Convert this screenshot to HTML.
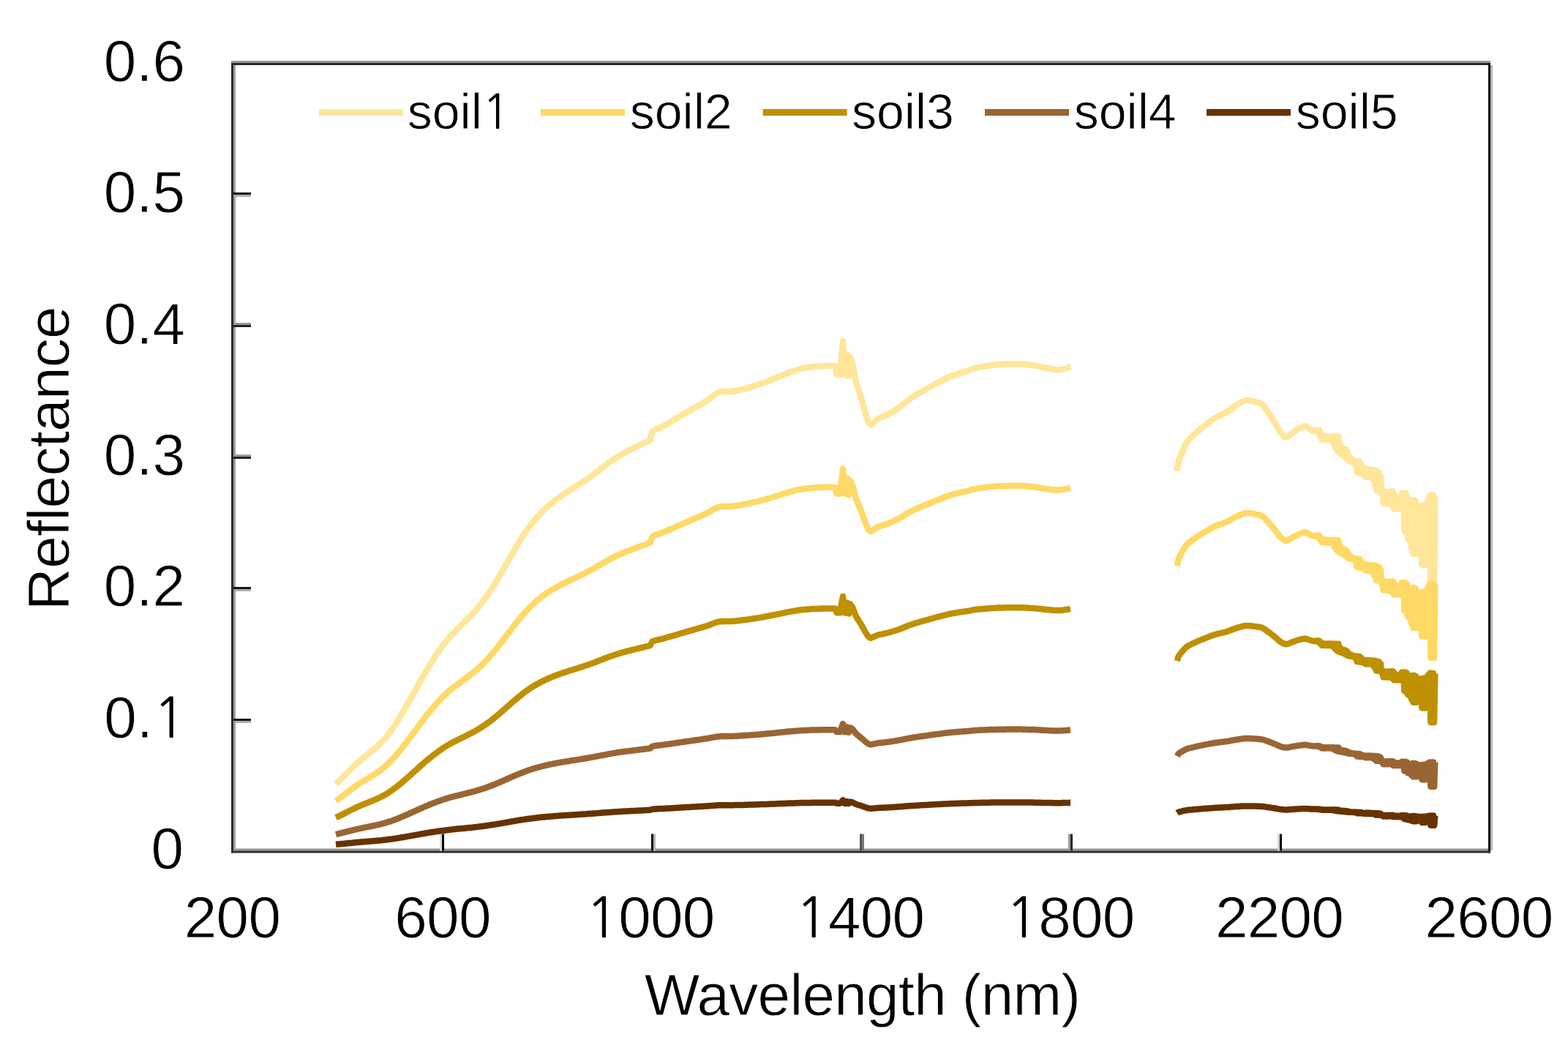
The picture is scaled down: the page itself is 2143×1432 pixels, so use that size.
<!DOCTYPE html>
<html><head><meta charset="utf-8"><title>Reflectance chart</title>
<style>
html,body{margin:0;padding:0;background:#fff;}
body{width:2143px;height:1432px;overflow:hidden;}
svg{display:block;}
text{font-family:"Liberation Sans",Arial,sans-serif;fill:#000;stroke:#fff;stroke-width:0.8px;}
</style></head><body>
<svg width="2143" height="1432" viewBox="0 0 2143 1432">
<rect width="2143" height="1432" fill="#fff"/>
<rect x="316" y="83" width="1721" height="3" fill="#999999"/><rect x="316" y="86" width="1721" height="3" fill="#2b2b2b"/><rect x="316" y="86" width="3" height="1079.5" fill="#2b2b2b"/><rect x="319" y="89" width="3" height="1070.5" fill="#a0a0a0"/><rect x="2034" y="86" width="3" height="1079.5" fill="#0a0a0a"/><rect x="2037" y="89" width="3" height="1073" fill="#b5b5b5"/><rect x="319" y="1159.5" width="1715" height="3" fill="#939393"/><rect x="316" y="1162.5" width="1721" height="3" fill="#2b2b2b"/><rect x="319" y="263" width="24" height="3" fill="#151515"/><rect x="322" y="266" width="21" height="3" fill="#b0b0b0"/><rect x="322" y="441" width="21" height="3" fill="#9a9a9a"/><rect x="319" y="444" width="24" height="3" fill="#222"/><rect x="322" y="621" width="21" height="3" fill="#9a9a9a"/><rect x="319" y="624" width="24" height="3" fill="#222"/><rect x="319" y="802" width="24" height="3" fill="#151515"/><rect x="322" y="805" width="21" height="3" fill="#b0b0b0"/><rect x="319" y="982" width="24" height="3" fill="#151515"/><rect x="322" y="985" width="21" height="3" fill="#b0b0b0"/><rect x="601" y="1139.5" width="3" height="23" fill="#dcdcdc"/><rect x="604" y="1139.5" width="3" height="23" fill="#080808"/><rect x="890" y="1139.5" width="3" height="23" fill="#080808"/><rect x="893" y="1139.5" width="3" height="23" fill="#b8b8b8"/><rect x="1175" y="1139.5" width="3" height="23" fill="#555"/><rect x="1178" y="1139.5" width="3" height="23" fill="#777"/><rect x="1460" y="1139.5" width="3" height="23" fill="#999"/><rect x="1463" y="1139.5" width="3" height="23" fill="#2a2a2a"/><rect x="1746" y="1139.5" width="3" height="23" fill="#d0d0d0"/><rect x="1749" y="1139.5" width="3" height="23" fill="#080808"/>
<g fill="none" stroke-width="8.5" stroke-linejoin="round" stroke-linecap="butt"><path d="M459.0 1071.3L461.0 1069.5L463.0 1067.6L465.0 1065.7L467.0 1063.8L469.0 1061.8L471.0 1059.8L473.0 1057.7L475.0 1055.7L477.0 1053.6L479.0 1051.6L481.0 1049.6L483.0 1047.6L485.0 1045.6L487.0 1043.7L489.0 1041.9L491.0 1040.1L493.0 1038.3L495.0 1036.6L497.0 1035.0L499.0 1033.4L501.0 1031.8L503.0 1030.2L505.0 1028.6L507.0 1027.0L509.0 1025.3L511.0 1023.7L513.0 1022.0L515.0 1020.2L517.0 1018.4L519.0 1016.5L521.0 1014.5L523.0 1012.5L525.0 1010.3L527.0 1008.0L529.0 1005.6L531.0 1003.1L533.0 1000.4L535.0 997.7L537.0 994.8L539.0 991.9L541.0 988.8L543.0 985.7L545.0 982.5L547.0 979.3L549.0 975.9L551.0 972.5L553.0 969.1L555.0 965.6L557.0 962.1L559.0 958.6L561.0 955.0L563.0 951.4L565.0 947.8L567.0 944.2L569.0 940.6L571.0 937.0L573.0 933.4L575.0 929.8L577.0 926.3L579.0 922.8L581.0 919.3L583.0 915.9L585.0 912.5L587.0 909.2L589.0 905.9L591.0 902.7L593.0 899.6L595.0 896.5L597.0 893.5L599.0 890.6L601.0 887.8L603.0 885.0L605.0 882.3L607.0 879.6L609.0 877.1L611.0 874.6L613.0 872.2L615.0 869.9L617.0 867.7L619.0 865.5L621.0 863.4L623.0 861.3L625.0 859.3L627.0 857.3L629.0 855.4L631.0 853.4L633.0 851.5L635.0 849.6L637.0 847.6L639.0 845.7L641.0 843.7L643.0 841.6L645.0 839.5L647.0 837.4L649.0 835.2L651.0 832.9L653.0 830.6L655.0 828.2L657.0 825.7L659.0 823.1L661.0 820.5L663.0 817.8L665.0 815.0L667.0 812.1L669.0 809.2L671.0 806.2L673.0 803.1L675.0 799.9L677.0 796.7L679.0 793.3L681.0 790.0L683.0 786.5L685.0 783.1L687.0 779.6L689.0 776.1L691.0 772.5L693.0 769.0L695.0 765.5L697.0 762.0L699.0 758.5L701.0 755.0L703.0 751.6L705.0 748.1L707.0 744.8L709.0 741.5L711.0 738.2L713.0 735.0L715.0 731.9L717.0 728.8L719.0 725.8L721.0 722.9L723.0 720.2L725.0 717.5L727.0 714.9L729.0 712.4L731.0 709.9L733.0 707.6L735.0 705.4L737.0 703.2L739.0 701.1L741.0 699.1L743.0 697.1L745.0 695.2L747.0 693.4L749.0 691.6L751.0 689.9L753.0 688.2L755.0 686.5L757.0 684.9L759.0 683.4L761.0 681.9L763.0 680.4L765.0 679.0L767.0 677.5L769.0 676.2L771.0 674.8L773.0 673.5L775.0 672.2L777.0 670.9L779.0 669.6L781.0 668.3L783.0 667.1L785.0 665.8L787.0 664.6L789.0 663.3L791.0 662.0L793.0 660.8L795.0 659.5L797.0 658.2L799.0 656.9L801.0 655.5L803.0 654.2L805.0 652.8L807.0 651.4L809.0 649.9L811.0 648.4L813.0 646.9L815.0 645.4L817.0 643.8L819.0 642.3L821.0 640.7L823.0 639.2L825.0 637.6L827.0 636.1L829.0 634.6L831.0 633.1L833.0 631.6L835.0 630.2L837.0 628.8L839.0 627.4L841.0 626.1L843.0 624.8L845.0 623.5L847.0 622.3L849.0 621.2L851.0 620.0L853.0 618.9L855.0 617.8L857.0 616.7L859.0 615.7L861.0 614.6L863.0 613.6L865.0 612.6L867.0 611.7L869.0 610.7L871.0 609.7L873.0 608.7L875.0 607.8L877.0 606.8L879.0 605.9L881.0 604.9L883.0 603.9L885.0 603.0L887.0 602.0L888.5 601.3L891.5 590.0L893.5 588.6L895.0 587.6L895.5 587.3L897.5 586.3L899.5 585.4L901.5 584.5L903.5 583.6L905.5 582.6L907.5 581.5L909.5 580.4L911.5 579.2L913.5 578.1L915.5 576.9L916.0 576.6L917.5 575.7L919.5 574.6L921.5 573.4L923.5 572.3L925.5 571.1L926.4 570.6L927.5 569.9L929.5 568.7L931.5 567.5L933.5 566.3L935.5 565.1L936.9 564.3L937.5 563.9L939.5 562.8L941.5 561.7L943.5 560.5L945.5 559.4L947.4 558.3L947.5 558.2L949.5 557.1L951.5 555.9L953.5 554.8L955.5 553.6L957.5 552.4L957.9 552.2L959.5 551.3L961.5 550.1L963.5 549.0L965.5 547.8L967.5 546.5L968.3 546.0L969.5 545.1L971.5 543.3L973.5 541.6L975.0 540.5L975.5 540.2L977.5 538.8L979.5 537.5L981.5 536.4L983.5 535.7L984.6 535.5L985.5 535.4L987.5 535.3L989.5 535.2L991.5 535.1L993.5 535.1L995.5 535.0L997.5 534.9L999.5 534.8L1000.0 534.8L1001.5 534.7L1003.5 534.4L1005.5 534.0L1007.5 533.6L1009.5 533.2L1011.5 532.7L1013.5 532.1L1015.5 531.6L1017.5 531.0L1019.5 530.5L1019.9 530.4L1021.5 530.0L1023.5 529.4L1025.5 528.9L1027.5 528.3L1029.5 527.7L1031.5 527.1L1033.5 526.4L1034.8 526.0L1035.5 525.8L1037.5 525.1L1039.5 524.4L1041.5 523.7L1043.5 523.0L1045.5 522.3L1047.5 521.5L1049.5 520.8L1049.7 520.7L1051.5 520.0L1053.5 519.2L1055.5 518.4L1057.5 517.6L1059.5 516.8L1061.5 516.0L1063.5 515.2L1064.7 514.7L1065.5 514.4L1067.5 513.5L1069.5 512.7L1071.5 511.9L1073.5 511.0L1075.5 510.2L1077.5 509.4L1079.5 508.6L1079.6 508.6L1081.5 507.9L1083.5 507.2L1085.5 506.5L1087.5 505.9L1088.0 505.7L1089.5 505.2L1091.5 504.6L1093.5 504.1L1094.6 503.8L1095.5 503.6L1097.5 503.2L1099.5 502.8L1101.5 502.4L1103.5 502.1L1105.5 501.8L1107.5 501.5L1109.5 501.3L1111.5 501.1L1113.5 500.9L1115.5 500.7L1117.5 500.6L1119.5 500.5L1121.5 500.3L1123.5 500.2L1124.4 500.2L1125.5 500.2L1127.5 500.1L1129.5 500.0L1131.5 499.9L1133.5 499.9L1135.5 499.8L1137.5 499.8L1139.4 499.8L1142.0 500.5L1143.5 511.5L1148.0 511.5L1152.0 466.5L1154.0 511.5L1156.5 512.0L1157.5 484.0L1160.0 514.0L1162.0 488.0L1165.0 496.0L1169.6 520.0L1172.6 530.0L1177.7 546.0L1181.7 561.0L1186.8 577.0L1190.0 580.5L1194.0 577.5L1200.0 572.2L1202.0 571.4L1204.0 570.6L1206.0 569.7L1208.0 568.8L1210.0 567.9L1212.0 566.9L1214.0 565.9L1216.0 564.8L1218.0 563.7L1220.0 562.6L1222.0 561.4L1224.0 560.1L1226.0 558.8L1227.9 557.5L1228.0 557.4L1230.0 556.0L1232.0 554.4L1234.0 552.7L1236.0 551.0L1238.0 549.3L1240.0 547.7L1241.9 546.3L1242.0 546.2L1244.0 544.8L1246.0 543.5L1248.0 542.2L1250.0 540.9L1252.0 539.7L1254.0 538.4L1255.9 537.3L1256.0 537.2L1258.0 536.1L1260.0 534.9L1262.0 533.8L1264.0 532.8L1266.0 531.7L1268.0 530.6L1269.8 529.6L1270.0 529.5L1272.0 528.4L1274.0 527.3L1276.0 526.1L1278.0 525.0L1280.0 523.9L1282.0 522.9L1283.8 521.9L1284.0 521.8L1286.0 520.7L1288.0 519.7L1290.0 518.6L1292.0 517.6L1294.0 516.6L1296.0 515.7L1297.8 514.9L1298.0 514.8L1300.0 514.0L1302.0 513.3L1304.0 512.6L1306.0 511.9L1308.0 511.2L1310.0 510.6L1311.7 510.0L1312.0 509.9L1314.0 509.3L1316.0 508.7L1318.0 508.2L1320.0 507.6L1322.0 507.1L1324.0 506.4L1325.7 505.8L1326.0 505.7L1328.0 504.7L1330.0 503.8L1332.0 503.2L1334.0 502.7L1336.0 502.2L1338.0 501.8L1340.0 501.4L1342.0 501.0L1344.0 500.7L1346.0 500.4L1348.0 500.1L1350.0 499.8L1350.3 499.8L1352.0 499.6L1354.0 499.3L1356.0 499.0L1358.0 498.8L1360.0 498.5L1362.0 498.3L1364.0 498.1L1366.0 497.9L1368.0 497.8L1370.0 497.7L1370.6 497.7L1372.0 497.7L1374.0 497.6L1376.0 497.6L1378.0 497.5L1380.0 497.5L1382.0 497.5L1384.0 497.4L1386.0 497.4L1388.0 497.4L1390.0 497.4L1390.9 497.4L1392.0 497.4L1394.0 497.5L1396.0 497.6L1398.0 497.7L1400.0 497.9L1402.0 498.0L1404.0 498.3L1406.0 498.5L1408.0 498.7L1410.0 499.0L1411.2 499.1L1412.0 499.2L1414.0 499.5L1416.0 499.9L1418.0 500.3L1420.0 500.7L1422.0 501.2L1424.0 501.6L1426.0 502.1L1428.0 502.5L1430.0 502.9L1431.5 503.2L1432.0 503.3L1434.0 503.7L1436.0 504.1L1438.0 504.4L1440.0 504.8L1442.0 505.0L1444.0 505.2L1445.0 505.2L1446.0 505.2L1448.0 505.0L1450.0 504.7L1452.0 504.3L1454.0 503.8L1456.0 503.3L1458.0 502.7L1458.6 502.5L1460.0 502.0L1462.0 501.0L1463.0 500.5M1608.8 643.5L1610.4 632.2L1610.8 630.6L1612.8 624.3L1614.8 619.7L1616.1 616.8L1616.8 615.1L1618.8 610.4L1620.8 606.4L1621.5 605.3L1622.8 603.5L1624.8 601.1L1626.8 599.0L1628.8 597.0L1630.8 595.2L1632.3 593.8L1632.8 593.3L1634.8 591.5L1636.8 589.6L1638.8 587.9L1640.8 586.2L1642.8 584.5L1644.8 582.9L1645.7 582.2L1646.8 581.3L1648.8 579.7L1650.8 578.2L1652.8 576.6L1654.8 575.1L1656.8 573.7L1658.8 572.3L1660.8 571.1L1661.4 570.7L1662.8 569.9L1664.8 568.9L1666.8 567.9L1668.8 567.0L1670.8 566.1L1672.8 565.1L1674.8 564.1L1676.8 563.0L1678.8 561.7L1680.8 560.2L1682.8 558.6L1684.8 557.1L1686.8 555.5L1688.8 554.1L1690.0 553.4L1690.8 552.9L1692.8 551.7L1694.8 550.4L1696.8 549.2L1698.8 548.2L1700.8 547.4L1702.8 546.9L1704.0 546.8L1704.8 546.8L1706.8 547.0L1708.8 547.3L1710.8 547.8L1712.8 548.3L1714.8 548.8L1716.5 549.3L1716.8 549.4L1718.8 549.9L1720.8 550.6L1722.8 551.4L1724.1 552.0L1724.8 552.5L1726.8 554.4L1728.8 557.0L1730.8 560.0L1732.8 562.9L1733.2 563.5L1734.8 565.8L1736.8 568.8L1738.8 571.9L1740.8 575.1L1742.3 577.5L1742.8 578.3L1744.8 581.9L1746.8 585.6L1748.8 589.0L1750.8 591.9L1751.4 592.6L1752.8 594.1L1754.8 596.2L1756.8 597.4L1757.5 597.5L1758.8 597.3L1760.8 596.2L1762.8 594.6L1764.8 592.8L1766.6 591.4L1766.8 591.3L1768.8 589.9L1770.8 588.4L1772.8 587.1L1774.8 585.9L1775.7 585.4L1776.8 584.8L1778.8 583.8L1780.8 582.9L1782.8 582.4L1783.6 582.3L1784.8 582.5L1786.8 583.6L1788.8 585.2L1790.8 586.8L1792.8 588.1L1793.9 588.4L1794.8 588.5L1796.8 588.8L1798.8 589.0L1800.0 589.0L1800.5 587.6L1801.7 591.5L1802.9 587.7L1804.1 595.6L1805.3 591.5L1806.5 600.5L1807.7 595.6L1808.9 600.7L1810.1 595.7L1811.3 600.9L1812.5 595.8L1813.7 601.0L1814.9 595.9L1816.1 601.2L1817.3 596.1L1818.5 601.4L1819.7 596.2L1820.9 602.7L1822.1 596.3L1823.3 608.1L1824.5 596.4L1825.7 612.8L1826.9 596.5L1828.1 616.4L1829.3 596.6L1830.5 619.0L1831.7 606.8L1832.9 620.4L1834.1 611.8L1835.3 622.0L1836.5 612.8L1837.7 624.4L1838.9 613.8L1840.1 626.8L1841.3 617.0L1842.5 629.2L1843.7 623.3L1844.9 630.3L1846.1 625.7L1847.3 631.2L1848.5 628.1L1849.7 632.1L1850.9 629.4L1852.1 635.0L1853.3 629.9L1854.5 645.3L1855.7 630.4L1856.9 645.9L1858.1 630.9L1859.3 646.5L1860.5 634.9L1861.7 647.1L1862.9 640.4L1864.1 648.9L1865.3 640.7L1866.5 651.9L1867.7 641.0L1868.9 651.9L1870.1 641.3L1871.3 651.9L1872.5 641.6L1873.7 651.9L1874.9 641.9L1876.1 655.2L1877.3 642.2L1878.5 661.4L1879.7 642.5L1880.9 669.8L1882.1 644.1L1883.3 670.2L1884.5 645.7L1885.7 670.6L1886.9 650.7L1888.1 675.4L1889.3 668.6L1890.5 687.6L1891.7 672.1L1892.9 687.8L1894.1 672.4L1895.3 688.0L1896.5 672.2L1897.7 688.2L1898.9 671.9L1900.1 679.5L1901.3 671.6L1902.5 690.8L1903.7 671.4L1904.9 695.4L1906.1 677.0L1907.3 695.4L1908.5 681.2L1909.7 695.4L1910.9 681.2L1912.1 695.4L1913.3 680.7L1914.5 695.4L1915.7 674.0L1916.9 695.4L1918.1 674.0L1919.3 725.0L1920.5 674.0L1921.7 728.3L1922.9 676.8L1924.1 735.7L1925.3 690.3L1926.5 738.9L1927.7 689.3L1928.9 747.8L1930.1 683.2L1931.3 756.4L1932.5 683.2L1933.7 756.4L1934.9 684.8L1936.1 756.4L1937.3 690.8L1938.5 746.4L1939.7 692.7L1940.9 746.4L1942.1 691.7L1943.3 771.8L1944.5 690.8L1945.7 771.8L1946.9 689.9L1948.1 771.8L1949.3 688.9L1950.5 747.1L1951.7 681.9L1952.9 747.2L1954.1 676.6L1955.3 810.8L1956.5 676.6L1957.7 810.8L1958.9 676.9L1960.1 810.8L1961.3 678.0" stroke="#FFE699"/><path d="M459.0 1094.2L461.0 1092.9L463.0 1091.5L465.0 1090.0L467.0 1088.6L469.0 1087.1L471.0 1085.6L473.0 1084.0L475.0 1082.5L477.0 1081.0L479.0 1079.5L481.0 1077.9L483.0 1076.4L485.0 1075.0L487.0 1073.5L489.0 1072.1L491.0 1070.8L493.0 1069.5L495.0 1068.2L497.0 1067.0L499.0 1065.8L501.0 1064.6L503.0 1063.4L505.0 1062.2L507.0 1061.0L509.0 1059.8L511.0 1058.5L513.0 1057.2L515.0 1055.9L517.0 1054.5L519.0 1053.1L521.0 1051.6L523.0 1050.1L525.0 1048.5L527.0 1046.8L529.0 1044.9L531.0 1043.0L533.0 1041.1L535.0 1039.0L537.0 1036.9L539.0 1034.7L541.0 1032.4L543.0 1030.0L545.0 1027.6L547.0 1025.2L549.0 1022.7L551.0 1020.2L553.0 1017.6L555.0 1015.0L557.0 1012.3L559.0 1009.7L561.0 1007.0L563.0 1004.3L565.0 1001.6L567.0 998.9L569.0 996.2L571.0 993.5L573.0 990.8L575.0 988.1L577.0 985.5L579.0 982.8L581.0 980.2L583.0 977.6L585.0 975.1L587.0 972.6L589.0 970.2L591.0 967.8L593.0 965.4L595.0 963.1L597.0 960.9L599.0 958.7L601.0 956.6L603.0 954.5L605.0 952.4L607.0 950.5L609.0 948.6L611.0 946.7L613.0 944.9L615.0 943.2L617.0 941.5L619.0 939.9L621.0 938.3L623.0 936.8L625.0 935.2L627.0 933.8L629.0 932.3L631.0 930.8L633.0 929.4L635.0 927.9L637.0 926.5L639.0 925.0L641.0 923.5L643.0 922.0L645.0 920.4L647.0 918.8L649.0 917.2L651.0 915.4L653.0 913.7L655.0 911.9L657.0 910.0L659.0 908.1L661.0 906.1L663.0 904.1L665.0 902.0L667.0 899.9L669.0 897.6L671.0 895.4L673.0 893.1L675.0 890.7L677.0 888.2L679.0 885.8L681.0 883.2L683.0 880.7L685.0 878.1L687.0 875.4L689.0 872.8L691.0 870.1L693.0 867.5L695.0 864.9L697.0 862.2L699.0 859.6L701.0 857.0L703.0 854.4L705.0 851.9L707.0 849.3L709.0 846.8L711.0 844.4L713.0 842.0L715.0 839.7L717.0 837.4L719.0 835.1L721.0 833.0L723.0 830.9L725.0 828.8L727.0 826.9L729.0 825.0L731.0 823.2L733.0 821.5L735.0 819.8L737.0 818.2L739.0 816.6L741.0 815.1L743.0 813.6L745.0 812.2L747.0 810.8L749.0 809.4L751.0 808.1L753.0 806.9L755.0 805.6L757.0 804.5L759.0 803.3L761.0 802.2L763.0 801.0L765.0 800.0L767.0 798.9L769.0 797.9L771.0 796.9L773.0 795.9L775.0 794.9L777.0 793.9L779.0 792.9L781.0 792.0L783.0 791.1L785.0 790.1L787.0 789.2L789.0 788.2L791.0 787.3L793.0 786.3L795.0 785.4L797.0 784.4L799.0 783.4L801.0 782.4L803.0 781.4L805.0 780.3L807.0 779.3L809.0 778.2L811.0 777.1L813.0 775.9L815.0 774.8L817.0 773.6L819.0 772.5L821.0 771.3L823.0 770.1L825.0 769.0L827.0 767.8L829.0 766.7L831.0 765.5L833.0 764.4L835.0 763.4L837.0 762.3L839.0 761.3L841.0 760.3L843.0 759.3L845.0 758.4L847.0 757.5L849.0 756.6L851.0 755.8L853.0 754.9L855.0 754.1L857.0 753.3L859.0 752.5L861.0 751.7L863.0 751.0L865.0 750.2L867.0 749.5L869.0 748.8L871.0 748.0L873.0 747.3L875.0 746.6L877.0 745.9L879.0 745.2L881.0 744.4L883.0 743.7L885.0 743.0L887.0 742.2L888.5 741.7L891.5 733.2L893.5 732.2L895.0 731.5L895.5 731.2L897.5 730.5L899.5 729.8L901.5 729.1L903.5 728.4L905.5 727.7L907.5 726.9L909.5 726.0L911.5 725.2L913.5 724.3L915.5 723.4L916.0 723.2L917.5 722.6L919.5 721.7L921.5 720.8L923.5 720.0L925.5 719.1L926.4 718.7L927.5 718.2L929.5 717.3L931.5 716.4L933.5 715.5L935.5 714.6L936.9 714.0L937.5 713.7L939.5 712.8L941.5 712.0L943.5 711.1L945.5 710.3L947.4 709.5L947.5 709.4L949.5 708.6L951.5 707.7L953.5 706.8L955.5 706.0L957.5 705.1L957.9 704.9L959.5 704.2L961.5 703.4L963.5 702.5L965.5 701.6L967.5 700.7L968.3 700.2L969.5 699.6L971.5 698.3L973.5 697.0L975.0 696.1L975.5 695.9L977.5 694.9L979.5 693.9L981.5 693.1L983.5 692.5L984.6 692.4L985.5 692.3L987.5 692.2L989.5 692.2L991.5 692.1L993.5 692.1L995.5 692.0L997.5 692.0L999.5 691.9L1000.0 691.8L1001.5 691.7L1003.5 691.5L1005.5 691.3L1007.5 691.0L1009.5 690.6L1011.5 690.2L1013.5 689.8L1015.5 689.4L1017.5 689.0L1019.5 688.6L1019.9 688.5L1021.5 688.2L1023.5 687.8L1025.5 687.4L1027.5 687.0L1029.5 686.5L1031.5 686.0L1033.5 685.6L1034.8 685.2L1035.5 685.1L1037.5 684.6L1039.5 684.1L1041.5 683.5L1043.5 683.0L1045.5 682.5L1047.5 681.9L1049.5 681.3L1049.7 681.3L1051.5 680.8L1053.5 680.2L1055.5 679.6L1057.5 679.0L1059.5 678.4L1061.5 677.8L1063.5 677.1L1064.7 676.8L1065.5 676.5L1067.5 675.9L1069.5 675.3L1071.5 674.6L1073.5 674.0L1075.5 673.4L1077.5 672.8L1079.5 672.2L1079.6 672.2L1081.5 671.7L1083.5 671.1L1085.5 670.6L1087.5 670.1L1088.0 670.0L1089.5 669.7L1091.5 669.2L1093.5 668.8L1094.6 668.6L1095.5 668.5L1097.5 668.1L1099.5 667.8L1101.5 667.6L1103.5 667.3L1105.5 667.1L1107.5 666.9L1109.5 666.7L1111.5 666.6L1113.5 666.4L1115.5 666.3L1117.5 666.2L1119.5 666.1L1121.5 666.0L1123.5 665.9L1124.4 665.9L1125.5 665.9L1127.5 665.8L1129.5 665.8L1131.5 665.7L1133.5 665.7L1135.5 665.6L1137.5 665.6L1139.4 665.6L1142.0 666.1L1143.5 674.4L1148.0 674.4L1152.0 640.6L1154.0 674.4L1156.5 674.8L1157.5 653.8L1160.0 676.2L1162.0 656.8L1165.0 662.8L1169.6 680.8L1172.6 688.2L1177.7 700.2L1181.7 711.5L1186.8 723.5L1190.0 726.1L1194.0 723.9L1200.0 719.9L1202.0 719.3L1204.0 718.7L1206.0 718.1L1208.0 717.4L1210.0 716.7L1212.0 715.9L1214.0 715.2L1216.0 714.4L1218.0 713.5L1220.0 712.7L1222.0 711.8L1224.0 710.8L1226.0 709.8L1227.9 708.9L1228.0 708.8L1230.0 707.7L1232.0 706.5L1234.0 705.3L1236.0 704.0L1238.0 702.7L1240.0 701.5L1241.9 700.5L1242.0 700.4L1244.0 699.4L1246.0 698.4L1248.0 697.4L1250.0 696.4L1252.0 695.5L1254.0 694.6L1255.9 693.7L1256.0 693.7L1258.0 692.8L1260.0 692.0L1262.0 691.1L1264.0 690.3L1266.0 689.5L1268.0 688.7L1269.8 688.0L1270.0 687.9L1272.0 687.0L1274.0 686.2L1276.0 685.4L1278.0 684.5L1280.0 683.7L1282.0 682.9L1283.8 682.2L1284.0 682.1L1286.0 681.3L1288.0 680.5L1290.0 679.7L1292.0 678.9L1294.0 678.2L1296.0 677.5L1297.8 676.9L1298.0 676.9L1300.0 676.3L1302.0 675.7L1304.0 675.2L1306.0 674.7L1308.0 674.2L1310.0 673.7L1311.7 673.2L1312.0 673.2L1314.0 672.7L1316.0 672.3L1318.0 671.9L1320.0 671.5L1322.0 671.0L1324.0 670.6L1325.7 670.1L1326.0 670.0L1328.0 669.3L1330.0 668.6L1332.0 668.2L1334.0 667.8L1336.0 667.4L1338.0 667.1L1340.0 666.8L1342.0 666.5L1344.0 666.3L1346.0 666.1L1348.0 665.8L1350.0 665.6L1350.3 665.6L1352.0 665.4L1354.0 665.2L1356.0 665.0L1358.0 664.8L1360.0 664.6L1362.0 664.5L1364.0 664.3L1366.0 664.2L1368.0 664.1L1370.0 664.0L1370.6 664.0L1372.0 664.0L1374.0 664.0L1376.0 663.9L1378.0 663.9L1380.0 663.9L1382.0 663.8L1384.0 663.8L1386.0 663.8L1388.0 663.8L1390.0 663.8L1390.9 663.8L1392.0 663.8L1394.0 663.8L1396.0 663.9L1398.0 664.0L1400.0 664.1L1402.0 664.3L1404.0 664.4L1406.0 664.6L1408.0 664.8L1410.0 665.0L1411.2 665.1L1412.0 665.2L1414.0 665.4L1416.0 665.6L1418.0 666.0L1420.0 666.3L1422.0 666.6L1424.0 667.0L1426.0 667.3L1428.0 667.6L1430.0 667.9L1431.5 668.2L1432.0 668.2L1434.0 668.5L1436.0 668.8L1438.0 669.1L1440.0 669.3L1442.0 669.5L1444.0 669.6L1445.0 669.7L1446.0 669.6L1448.0 669.5L1450.0 669.3L1452.0 669.0L1454.0 668.6L1456.0 668.2L1458.0 667.8L1458.6 667.6L1460.0 667.2L1462.0 666.5L1463.0 666.1M1608.8 773.4L1610.4 764.9L1610.8 763.7L1612.8 759.0L1614.8 755.5L1616.1 753.3L1616.8 752.1L1618.8 748.6L1620.8 745.6L1621.5 744.7L1622.8 743.4L1624.8 741.5L1626.8 740.0L1628.8 738.5L1630.8 737.2L1632.3 736.1L1632.8 735.7L1634.8 734.3L1636.8 733.0L1638.8 731.7L1640.8 730.4L1642.8 729.2L1644.8 727.9L1645.7 727.4L1646.8 726.7L1648.8 725.6L1650.8 724.4L1652.8 723.2L1654.8 722.1L1656.8 721.0L1658.8 720.0L1660.8 719.0L1661.4 718.8L1662.8 718.2L1664.8 717.4L1666.8 716.7L1668.8 716.0L1670.8 715.3L1672.8 714.6L1674.8 713.8L1676.8 713.0L1678.8 712.0L1680.8 710.9L1682.8 709.7L1684.8 708.5L1686.8 707.4L1688.8 706.3L1690.0 705.8L1690.8 705.4L1692.8 704.5L1694.8 703.6L1696.8 702.7L1698.8 701.9L1700.8 701.3L1702.8 700.9L1704.0 700.8L1704.8 700.9L1706.8 701.0L1708.8 701.2L1710.8 701.6L1712.8 702.0L1714.8 702.4L1716.5 702.7L1716.8 702.8L1718.8 703.2L1720.8 703.7L1722.8 704.3L1724.1 704.8L1724.8 705.1L1726.8 706.5L1728.8 708.5L1730.8 710.7L1732.8 713.0L1733.2 713.4L1734.8 715.1L1736.8 717.3L1738.8 719.7L1740.8 722.1L1742.3 723.9L1742.8 724.5L1744.8 727.1L1746.8 729.9L1748.8 732.5L1750.8 734.7L1751.4 735.2L1752.8 736.4L1754.8 737.9L1756.8 738.8L1757.5 738.9L1758.8 738.7L1760.8 737.9L1762.8 736.7L1764.8 735.3L1766.6 734.3L1766.8 734.2L1768.8 733.2L1770.8 732.1L1772.8 731.1L1774.8 730.2L1775.7 729.8L1776.8 729.4L1778.8 728.6L1780.8 727.9L1782.8 727.5L1783.6 727.5L1784.8 727.6L1786.8 728.4L1788.8 729.6L1790.8 730.9L1792.8 731.8L1793.9 732.0L1794.8 732.2L1796.8 732.4L1798.8 732.5L1800.0 732.5L1800.5 731.4L1801.7 734.4L1802.9 731.5L1804.1 737.4L1805.3 734.4L1806.5 741.1L1807.7 737.4L1808.9 741.3L1810.1 737.5L1811.3 741.4L1812.5 737.6L1813.7 741.5L1814.9 737.7L1816.1 741.7L1817.3 737.8L1818.5 741.8L1819.7 737.9L1820.9 742.8L1822.1 738.0L1823.3 746.8L1824.5 738.1L1825.7 750.4L1826.9 738.1L1828.1 753.1L1829.3 738.2L1830.5 755.0L1831.7 745.8L1832.9 756.1L1834.1 749.6L1835.3 757.2L1836.5 750.3L1837.7 759.0L1838.9 751.1L1840.1 760.8L1841.3 753.5L1842.5 762.6L1843.7 758.2L1844.9 763.4L1846.1 760.0L1847.3 764.1L1848.5 761.8L1849.7 764.8L1850.9 762.8L1852.1 767.0L1853.3 763.2L1854.5 774.7L1855.7 763.6L1856.9 775.2L1858.1 763.9L1859.3 775.6L1860.5 766.9L1861.7 776.0L1862.9 771.0L1864.1 777.5L1865.3 771.3L1866.5 779.6L1867.7 771.5L1868.9 779.6L1870.1 771.7L1871.3 779.6L1872.5 771.9L1873.7 779.6L1874.9 772.1L1876.1 782.2L1877.3 772.4L1878.5 786.8L1879.7 772.6L1880.9 793.1L1882.1 773.8L1883.3 793.4L1884.5 775.0L1885.7 793.7L1886.9 778.8L1888.1 797.3L1889.3 792.2L1890.5 806.5L1891.7 794.8L1892.9 806.6L1894.1 795.1L1895.3 806.7L1896.5 794.9L1897.7 806.9L1898.9 794.7L1900.1 800.3L1901.3 794.5L1902.5 808.9L1903.7 794.3L1904.9 812.3L1906.1 798.5L1907.3 812.3L1908.5 801.7L1909.7 812.3L1910.9 801.7L1912.1 812.3L1913.3 801.3L1914.5 812.3L1915.7 796.3L1916.9 812.3L1918.1 796.3L1919.3 834.5L1920.5 796.3L1921.7 836.9L1922.9 798.4L1924.1 842.5L1925.3 808.4L1926.5 844.9L1927.7 807.7L1928.9 851.6L1930.1 803.2L1931.3 858.0L1932.5 803.2L1933.7 858.0L1934.9 804.3L1936.1 858.0L1937.3 808.8L1938.5 850.5L1939.7 810.3L1940.9 850.5L1942.1 809.6L1943.3 869.6L1944.5 808.9L1945.7 869.6L1946.9 808.1L1948.1 869.6L1949.3 807.4L1950.5 851.1L1951.7 802.2L1952.9 851.1L1954.1 798.2L1955.3 898.8L1956.5 798.2L1957.7 898.8L1958.9 798.5L1960.1 898.8L1961.3 799.2" stroke="#FFD966"/><path d="M459.0 1117.1L461.0 1116.2L463.0 1115.3L465.0 1114.4L467.0 1113.4L469.0 1112.4L471.0 1111.4L473.0 1110.4L475.0 1109.3L477.0 1108.3L479.0 1107.3L481.0 1106.3L483.0 1105.3L485.0 1104.3L487.0 1103.4L489.0 1102.4L491.0 1101.5L493.0 1100.7L495.0 1099.8L497.0 1099.0L499.0 1098.2L501.0 1097.4L503.0 1096.6L505.0 1095.8L507.0 1095.0L509.0 1094.2L511.0 1093.3L513.0 1092.5L515.0 1091.6L517.0 1090.7L519.0 1089.8L521.0 1088.8L523.0 1087.7L525.0 1086.6L527.0 1085.5L529.0 1084.3L531.0 1083.0L533.0 1081.7L535.0 1080.3L537.0 1078.9L539.0 1077.4L541.0 1075.9L543.0 1074.4L545.0 1072.8L547.0 1071.1L549.0 1069.5L551.0 1067.8L553.0 1066.1L555.0 1064.3L557.0 1062.6L559.0 1060.8L561.0 1059.0L563.0 1057.2L565.0 1055.4L567.0 1053.6L569.0 1051.8L571.0 1050.0L573.0 1048.2L575.0 1046.4L577.0 1044.6L579.0 1042.9L581.0 1041.1L583.0 1039.4L585.0 1037.7L587.0 1036.1L589.0 1034.5L591.0 1032.9L593.0 1031.3L595.0 1029.8L597.0 1028.3L599.0 1026.8L601.0 1025.4L603.0 1024.0L605.0 1022.6L607.0 1021.3L609.0 1020.0L611.0 1018.8L613.0 1017.6L615.0 1016.5L617.0 1015.3L619.0 1014.3L621.0 1013.2L623.0 1012.2L625.0 1011.2L627.0 1010.2L629.0 1009.2L631.0 1008.2L633.0 1007.3L635.0 1006.3L637.0 1005.3L639.0 1004.3L641.0 1003.3L643.0 1002.3L645.0 1001.3L647.0 1000.2L649.0 999.1L651.0 998.0L653.0 996.8L655.0 995.6L657.0 994.3L659.0 993.1L661.0 991.7L663.0 990.4L665.0 989.0L667.0 987.6L669.0 986.1L671.0 984.6L673.0 983.0L675.0 981.5L677.0 979.8L679.0 978.2L681.0 976.5L683.0 974.8L685.0 973.0L687.0 971.3L689.0 969.5L691.0 967.8L693.0 966.0L695.0 964.2L697.0 962.5L699.0 960.7L701.0 959.0L703.0 957.3L705.0 955.6L707.0 953.9L709.0 952.2L711.0 950.6L713.0 949.0L715.0 947.4L717.0 945.9L719.0 944.4L721.0 943.0L723.0 941.6L725.0 940.2L727.0 938.9L729.0 937.7L731.0 936.5L733.0 935.3L735.0 934.2L737.0 933.1L739.0 932.1L741.0 931.0L743.0 930.1L745.0 929.1L747.0 928.2L749.0 927.3L751.0 926.4L753.0 925.6L755.0 924.8L757.0 924.0L759.0 923.2L761.0 922.4L763.0 921.7L765.0 921.0L767.0 920.3L769.0 919.6L771.0 918.9L773.0 918.2L775.0 917.6L777.0 916.9L779.0 916.3L781.0 915.7L783.0 915.0L785.0 914.4L787.0 913.8L789.0 913.2L791.0 912.5L793.0 911.9L795.0 911.2L797.0 910.6L799.0 909.9L801.0 909.3L803.0 908.6L805.0 907.9L807.0 907.2L809.0 906.4L811.0 905.7L813.0 905.0L815.0 904.2L817.0 903.4L819.0 902.6L821.0 901.9L823.0 901.1L825.0 900.3L827.0 899.5L829.0 898.8L831.0 898.0L833.0 897.3L835.0 896.6L837.0 895.9L839.0 895.2L841.0 894.5L843.0 893.9L845.0 893.3L847.0 892.7L849.0 892.1L851.0 891.5L853.0 890.9L855.0 890.4L857.0 889.9L859.0 889.3L861.0 888.8L863.0 888.3L865.0 887.8L867.0 887.3L869.0 886.8L871.0 886.4L873.0 885.9L875.0 885.4L877.0 884.9L879.0 884.4L881.0 884.0L883.0 883.5L885.0 883.0L887.0 882.5L888.5 882.1L891.5 876.5L893.5 875.8L895.0 875.3L895.5 875.2L897.5 874.6L899.5 874.2L901.5 873.7L903.5 873.3L905.5 872.8L907.5 872.3L909.5 871.7L911.5 871.1L913.5 870.5L915.5 869.9L916.0 869.8L917.5 869.4L919.5 868.8L921.5 868.2L923.5 867.6L925.5 867.1L926.4 866.8L927.5 866.5L929.5 865.9L931.5 865.3L933.5 864.7L935.5 864.1L936.9 863.6L937.5 863.5L939.5 862.9L941.5 862.3L943.5 861.8L945.5 861.2L947.4 860.6L947.5 860.6L949.5 860.0L951.5 859.5L953.5 858.9L955.5 858.3L957.5 857.7L957.9 857.6L959.5 857.1L961.5 856.6L963.5 856.0L965.5 855.4L967.5 854.8L968.3 854.5L969.5 854.0L971.5 853.2L973.5 852.3L975.0 851.8L975.5 851.6L977.5 850.9L979.5 850.3L981.5 849.7L983.5 849.3L984.6 849.2L985.5 849.2L987.5 849.1L989.5 849.1L991.5 849.1L993.5 849.0L995.5 849.0L997.5 849.0L999.5 848.9L1000.0 848.9L1001.5 848.8L1003.5 848.7L1005.5 848.5L1007.5 848.3L1009.5 848.1L1011.5 847.8L1013.5 847.6L1015.5 847.3L1017.5 847.0L1019.5 846.8L1019.9 846.7L1021.5 846.5L1023.5 846.2L1025.5 845.9L1027.5 845.6L1029.5 845.3L1031.5 845.0L1033.5 844.7L1034.8 844.5L1035.5 844.4L1037.5 844.1L1039.5 843.7L1041.5 843.4L1043.5 843.0L1045.5 842.6L1047.5 842.3L1049.5 841.9L1049.7 841.9L1051.5 841.5L1053.5 841.1L1055.5 840.7L1057.5 840.3L1059.5 839.9L1061.5 839.5L1063.5 839.1L1064.7 838.9L1065.5 838.7L1067.5 838.3L1069.5 837.9L1071.5 837.4L1073.5 837.0L1075.5 836.6L1077.5 836.2L1079.5 835.8L1079.6 835.8L1081.5 835.5L1083.5 835.1L1085.5 834.8L1087.5 834.4L1088.0 834.4L1089.5 834.1L1091.5 833.8L1093.5 833.5L1094.6 833.4L1095.5 833.3L1097.5 833.1L1099.5 832.9L1101.5 832.7L1103.5 832.5L1105.5 832.4L1107.5 832.3L1109.5 832.1L1111.5 832.1L1113.5 832.0L1115.5 831.9L1117.5 831.8L1119.5 831.7L1121.5 831.7L1123.5 831.6L1124.4 831.6L1125.5 831.6L1127.5 831.5L1129.5 831.5L1131.5 831.5L1133.5 831.4L1135.5 831.4L1137.5 831.4L1139.4 831.4L1142.0 831.8L1143.5 837.2L1148.0 837.2L1152.0 814.8L1154.0 837.2L1156.5 837.5L1157.5 823.5L1160.0 838.5L1162.0 825.5L1165.0 829.5L1169.6 841.5L1172.6 846.5L1177.7 854.5L1181.7 862.0L1186.8 870.0L1190.0 871.8L1194.0 870.2L1200.0 867.6L1202.0 867.2L1204.0 866.8L1206.0 866.4L1208.0 865.9L1210.0 865.4L1212.0 865.0L1214.0 864.5L1216.0 863.9L1218.0 863.4L1220.0 862.8L1222.0 862.2L1224.0 861.5L1226.0 860.9L1227.9 860.2L1228.0 860.2L1230.0 859.5L1232.0 858.7L1234.0 857.9L1236.0 857.0L1238.0 856.2L1240.0 855.4L1241.9 854.6L1242.0 854.6L1244.0 853.9L1246.0 853.2L1248.0 852.6L1250.0 851.9L1252.0 851.3L1254.0 850.7L1255.9 850.1L1256.0 850.1L1258.0 849.5L1260.0 849.0L1262.0 848.4L1264.0 847.9L1266.0 847.3L1268.0 846.8L1269.8 846.3L1270.0 846.2L1272.0 845.7L1274.0 845.1L1276.0 844.6L1278.0 844.0L1280.0 843.5L1282.0 842.9L1283.8 842.5L1284.0 842.4L1286.0 841.9L1288.0 841.3L1290.0 840.8L1292.0 840.3L1294.0 839.8L1296.0 839.3L1297.8 839.0L1298.0 838.9L1300.0 838.5L1302.0 838.1L1304.0 837.8L1306.0 837.4L1308.0 837.1L1310.0 836.8L1311.7 836.5L1312.0 836.5L1314.0 836.1L1316.0 835.9L1318.0 835.6L1320.0 835.3L1322.0 835.0L1324.0 834.7L1325.7 834.4L1326.0 834.3L1328.0 833.8L1330.0 833.4L1332.0 833.1L1334.0 832.8L1336.0 832.6L1338.0 832.4L1340.0 832.2L1342.0 832.0L1344.0 831.9L1346.0 831.7L1348.0 831.6L1350.0 831.4L1350.3 831.4L1352.0 831.3L1354.0 831.1L1356.0 831.0L1358.0 830.9L1360.0 830.8L1362.0 830.7L1364.0 830.6L1366.0 830.5L1368.0 830.4L1370.0 830.4L1370.6 830.4L1372.0 830.3L1374.0 830.3L1376.0 830.3L1378.0 830.3L1380.0 830.2L1382.0 830.2L1384.0 830.2L1386.0 830.2L1388.0 830.2L1390.0 830.2L1390.9 830.2L1392.0 830.2L1394.0 830.2L1396.0 830.3L1398.0 830.3L1400.0 830.4L1402.0 830.5L1404.0 830.6L1406.0 830.7L1408.0 830.9L1410.0 831.0L1411.2 831.0L1412.0 831.1L1414.0 831.3L1416.0 831.4L1418.0 831.6L1420.0 831.9L1422.0 832.1L1424.0 832.3L1426.0 832.5L1428.0 832.8L1430.0 833.0L1431.5 833.1L1432.0 833.1L1434.0 833.3L1436.0 833.5L1438.0 833.7L1440.0 833.9L1442.0 834.0L1444.0 834.1L1445.0 834.1L1446.0 834.1L1448.0 834.0L1450.0 833.9L1452.0 833.7L1454.0 833.4L1456.0 833.1L1458.0 832.8L1458.6 832.8L1460.0 832.5L1462.0 832.0L1463.0 831.8M1608.8 903.2L1610.4 897.6L1610.8 896.8L1612.8 893.6L1614.8 891.4L1616.1 889.9L1616.8 889.1L1618.8 886.7L1620.8 884.7L1621.5 884.1L1622.8 883.2L1624.8 882.0L1626.8 881.0L1628.8 880.0L1630.8 879.1L1632.3 878.4L1632.8 878.2L1634.8 877.2L1636.8 876.3L1638.8 875.4L1640.8 874.6L1642.8 873.8L1644.8 873.0L1645.7 872.6L1646.8 872.2L1648.8 871.4L1650.8 870.6L1652.8 869.8L1654.8 869.1L1656.8 868.3L1658.8 867.7L1660.8 867.0L1661.4 866.9L1662.8 866.5L1664.8 865.9L1666.8 865.5L1668.8 865.0L1670.8 864.5L1672.8 864.1L1674.8 863.6L1676.8 863.0L1678.8 862.3L1680.8 861.6L1682.8 860.8L1684.8 860.0L1686.8 859.3L1688.8 858.6L1690.0 858.2L1690.8 858.0L1692.8 857.3L1694.8 856.7L1696.8 856.1L1698.8 855.6L1700.8 855.2L1702.8 854.9L1704.0 854.9L1704.8 854.9L1706.8 855.0L1708.8 855.2L1710.8 855.4L1712.8 855.6L1714.8 855.9L1716.5 856.1L1716.8 856.2L1718.8 856.5L1720.8 856.8L1722.8 857.2L1724.1 857.5L1724.8 857.7L1726.8 858.7L1728.8 860.0L1730.8 861.5L1732.8 863.0L1733.2 863.2L1734.8 864.4L1736.8 865.9L1738.8 867.5L1740.8 869.1L1742.3 870.2L1742.8 870.7L1744.8 872.4L1746.8 874.3L1748.8 876.0L1750.8 877.5L1751.4 877.8L1752.8 878.6L1754.8 879.6L1756.8 880.2L1757.5 880.2L1758.8 880.1L1760.8 879.6L1762.8 878.8L1764.8 877.9L1766.6 877.2L1766.8 877.1L1768.8 876.4L1770.8 875.7L1772.8 875.0L1774.8 874.4L1775.7 874.2L1776.8 873.9L1778.8 873.4L1780.8 872.9L1782.8 872.7L1783.6 872.6L1784.8 872.8L1786.8 873.3L1788.8 874.1L1790.8 874.9L1792.8 875.5L1793.9 875.7L1794.8 875.8L1796.8 875.9L1798.8 876.0L1800.0 876.0L1800.5 875.3L1801.7 877.3L1802.9 875.4L1804.1 879.3L1805.3 877.3L1806.5 881.7L1807.7 879.3L1808.9 881.8L1810.1 879.4L1811.3 881.9L1812.5 879.4L1813.7 882.0L1814.9 879.5L1816.1 882.1L1817.3 879.5L1818.5 882.2L1819.7 879.6L1820.9 882.8L1822.1 879.6L1823.3 885.5L1824.5 879.7L1825.7 887.9L1826.9 879.8L1828.1 889.7L1829.3 879.8L1830.5 891.0L1831.7 884.9L1832.9 891.7L1834.1 887.4L1835.3 892.5L1836.5 887.9L1837.7 893.7L1838.9 888.4L1840.1 894.9L1841.3 890.0L1842.5 896.1L1843.7 893.1L1844.9 896.6L1846.1 894.3L1847.3 897.1L1848.5 895.5L1849.7 897.5L1850.9 896.2L1852.1 899.0L1853.3 896.4L1854.5 904.1L1855.7 896.7L1856.9 904.4L1858.1 897.0L1859.3 904.7L1860.5 899.0L1861.7 905.0L1862.9 901.7L1864.1 906.0L1865.3 901.8L1866.5 907.4L1867.7 902.0L1868.9 907.4L1870.1 902.1L1871.3 907.4L1872.5 902.3L1873.7 907.4L1874.9 902.4L1876.1 909.1L1877.3 902.6L1878.5 912.2L1879.7 902.7L1880.9 916.4L1882.1 903.5L1883.3 916.6L1884.5 904.3L1885.7 916.8L1886.9 906.8L1888.1 919.2L1889.3 915.8L1890.5 925.3L1891.7 917.6L1892.9 925.4L1894.1 917.7L1895.3 925.5L1896.5 917.6L1897.7 925.6L1898.9 917.5L1900.1 921.2L1901.3 917.3L1902.5 926.9L1903.7 917.2L1904.9 929.2L1906.1 920.0L1907.3 929.2L1908.5 922.1L1909.7 929.2L1910.9 922.1L1912.1 929.2L1913.3 921.8L1914.5 929.2L1915.7 918.5L1916.9 929.2L1918.1 918.5L1919.3 944.0L1920.5 918.5L1921.7 945.6L1922.9 919.9L1924.1 949.3L1925.3 926.6L1926.5 950.9L1927.7 926.2L1928.9 955.4L1930.1 923.1L1931.3 959.7L1932.5 923.1L1933.7 959.7L1934.9 923.9L1936.1 959.7L1937.3 926.9L1938.5 954.7L1939.7 927.8L1940.9 954.7L1942.1 927.4L1943.3 967.4L1944.5 926.9L1945.7 967.4L1946.9 926.4L1948.1 967.4L1949.3 926.0L1950.5 955.1L1951.7 922.5L1952.9 955.1L1954.1 919.8L1955.3 986.9L1956.5 919.8L1957.7 986.9L1958.9 920.0L1960.1 986.9L1961.3 920.5" stroke="#BF9000"/><path d="M459.0 1140.1L461.0 1139.6L463.0 1139.2L465.0 1138.7L467.0 1138.2L469.0 1137.7L471.0 1137.2L473.0 1136.7L475.0 1136.2L477.0 1135.7L479.0 1135.2L481.0 1134.6L483.0 1134.1L485.0 1133.7L487.0 1133.2L489.0 1132.7L491.0 1132.3L493.0 1131.8L495.0 1131.4L497.0 1131.0L499.0 1130.6L501.0 1130.2L503.0 1129.8L505.0 1129.4L507.0 1129.0L509.0 1128.6L511.0 1128.2L513.0 1127.7L515.0 1127.3L517.0 1126.8L519.0 1126.4L521.0 1125.9L523.0 1125.4L525.0 1124.8L527.0 1124.3L529.0 1123.6L531.0 1123.0L533.0 1122.4L535.0 1121.7L537.0 1121.0L539.0 1120.2L541.0 1119.5L543.0 1118.7L545.0 1117.9L547.0 1117.1L549.0 1116.2L551.0 1115.4L553.0 1114.5L555.0 1113.7L557.0 1112.8L559.0 1111.9L561.0 1111.0L563.0 1110.1L565.0 1109.2L567.0 1108.3L569.0 1107.4L571.0 1106.5L573.0 1105.6L575.0 1104.7L577.0 1103.8L579.0 1102.9L581.0 1102.1L583.0 1101.2L585.0 1100.4L587.0 1099.5L589.0 1098.7L591.0 1097.9L593.0 1097.1L595.0 1096.4L597.0 1095.6L599.0 1094.9L601.0 1094.2L603.0 1093.5L605.0 1092.8L607.0 1092.2L609.0 1091.5L611.0 1090.9L613.0 1090.3L615.0 1089.7L617.0 1089.2L619.0 1088.6L621.0 1088.1L623.0 1087.6L625.0 1087.1L627.0 1086.6L629.0 1086.1L631.0 1085.6L633.0 1085.1L635.0 1084.6L637.0 1084.2L639.0 1083.7L641.0 1083.2L643.0 1082.7L645.0 1082.1L647.0 1081.6L649.0 1081.1L651.0 1080.5L653.0 1079.9L655.0 1079.3L657.0 1078.7L659.0 1078.0L661.0 1077.4L663.0 1076.7L665.0 1076.0L667.0 1075.3L669.0 1074.5L671.0 1073.8L673.0 1073.0L675.0 1072.2L677.0 1071.4L679.0 1070.6L681.0 1069.7L683.0 1068.9L685.0 1068.0L687.0 1067.1L689.0 1066.3L691.0 1065.4L693.0 1064.5L695.0 1063.6L697.0 1062.7L699.0 1061.9L701.0 1061.0L703.0 1060.1L705.0 1059.3L707.0 1058.4L709.0 1057.6L711.0 1056.8L713.0 1056.0L715.0 1055.2L717.0 1054.5L719.0 1053.7L721.0 1053.0L723.0 1052.3L725.0 1051.6L727.0 1051.0L729.0 1050.3L731.0 1049.7L733.0 1049.2L735.0 1048.6L737.0 1048.1L739.0 1047.5L741.0 1047.0L743.0 1046.5L745.0 1046.1L747.0 1045.6L749.0 1045.1L751.0 1044.7L753.0 1044.3L755.0 1043.9L757.0 1043.5L759.0 1043.1L761.0 1042.7L763.0 1042.3L765.0 1042.0L767.0 1041.6L769.0 1041.3L771.0 1041.0L773.0 1040.6L775.0 1040.3L777.0 1040.0L779.0 1039.6L781.0 1039.3L783.0 1039.0L785.0 1038.7L787.0 1038.4L789.0 1038.1L791.0 1037.8L793.0 1037.4L795.0 1037.1L797.0 1036.8L799.0 1036.5L801.0 1036.1L803.0 1035.8L805.0 1035.4L807.0 1035.1L809.0 1034.7L811.0 1034.4L813.0 1034.0L815.0 1033.6L817.0 1033.2L819.0 1032.8L821.0 1032.4L823.0 1032.0L825.0 1031.7L827.0 1031.3L829.0 1030.9L831.0 1030.5L833.0 1030.1L835.0 1029.8L837.0 1029.4L839.0 1029.1L841.0 1028.8L843.0 1028.4L845.0 1028.1L847.0 1027.8L849.0 1027.5L851.0 1027.3L853.0 1027.0L855.0 1026.7L857.0 1026.4L859.0 1026.2L861.0 1025.9L863.0 1025.7L865.0 1025.4L867.0 1025.2L869.0 1024.9L871.0 1024.7L873.0 1024.4L875.0 1024.2L877.0 1024.0L879.0 1023.7L881.0 1023.5L883.0 1023.2L885.0 1023.0L887.0 1022.7L888.5 1022.6L891.5 1019.8L893.5 1019.4L895.0 1019.1L895.5 1019.1L897.5 1018.8L899.5 1018.6L901.5 1018.4L903.5 1018.1L905.5 1017.9L907.5 1017.6L909.5 1017.3L911.5 1017.1L913.5 1016.8L915.5 1016.5L916.0 1016.4L917.5 1016.2L919.5 1015.9L921.5 1015.6L923.5 1015.3L925.5 1015.0L926.4 1014.9L927.5 1014.7L929.5 1014.4L931.5 1014.1L933.5 1013.8L935.5 1013.5L936.9 1013.3L937.5 1013.2L939.5 1012.9L941.5 1012.7L943.5 1012.4L945.5 1012.1L947.4 1011.8L947.5 1011.8L949.5 1011.5L951.5 1011.2L953.5 1010.9L955.5 1010.7L957.5 1010.4L957.9 1010.3L959.5 1010.1L961.5 1009.8L963.5 1009.5L965.5 1009.2L967.5 1008.9L968.3 1008.8L969.5 1008.5L971.5 1008.1L973.5 1007.7L975.0 1007.4L975.5 1007.3L977.5 1007.0L979.5 1006.6L981.5 1006.4L983.5 1006.2L984.6 1006.1L985.5 1006.1L987.5 1006.1L989.5 1006.1L991.5 1006.0L993.5 1006.0L995.5 1006.0L997.5 1006.0L999.5 1006.0L1000.0 1006.0L1001.5 1005.9L1003.5 1005.8L1005.5 1005.8L1007.5 1005.7L1009.5 1005.5L1011.5 1005.4L1013.5 1005.3L1015.5 1005.1L1017.5 1005.0L1019.5 1004.9L1019.9 1004.9L1021.5 1004.7L1023.5 1004.6L1025.5 1004.5L1027.5 1004.3L1029.5 1004.2L1031.5 1004.0L1033.5 1003.9L1034.8 1003.8L1035.5 1003.7L1037.5 1003.5L1039.5 1003.4L1041.5 1003.2L1043.5 1003.0L1045.5 1002.8L1047.5 1002.6L1049.5 1002.4L1049.7 1002.4L1051.5 1002.3L1053.5 1002.1L1055.5 1001.9L1057.5 1001.7L1059.5 1001.5L1061.5 1001.3L1063.5 1001.0L1064.7 1000.9L1065.5 1000.8L1067.5 1000.6L1069.5 1000.4L1071.5 1000.2L1073.5 1000.0L1075.5 999.8L1077.5 999.6L1079.5 999.4L1079.6 999.4L1081.5 999.2L1083.5 999.0L1085.5 998.9L1087.5 998.7L1088.0 998.7L1089.5 998.6L1091.5 998.4L1093.5 998.3L1094.6 998.2L1095.5 998.2L1097.5 998.0L1099.5 997.9L1101.5 997.9L1103.5 997.8L1105.5 997.7L1107.5 997.6L1109.5 997.6L1111.5 997.5L1113.5 997.5L1115.5 997.4L1117.5 997.4L1119.5 997.4L1121.5 997.3L1123.5 997.3L1124.4 997.3L1125.5 997.3L1127.5 997.3L1129.5 997.3L1131.5 997.2L1133.5 997.2L1135.5 997.2L1137.5 997.2L1139.4 997.2L1142.0 997.4L1143.5 1000.1L1148.0 1000.1L1152.0 988.9L1154.0 1000.1L1156.5 1000.2L1157.5 993.2L1160.0 1000.8L1162.0 994.2L1165.0 996.2L1169.6 1002.2L1172.6 1004.8L1177.7 1008.8L1181.7 1012.5L1186.8 1016.5L1190.0 1017.4L1194.0 1016.6L1200.0 1015.3L1202.0 1015.1L1204.0 1014.9L1206.0 1014.7L1208.0 1014.5L1210.0 1014.2L1212.0 1014.0L1214.0 1013.7L1216.0 1013.5L1218.0 1013.2L1220.0 1012.9L1222.0 1012.6L1224.0 1012.3L1226.0 1011.9L1227.9 1011.6L1228.0 1011.6L1230.0 1011.2L1232.0 1010.8L1234.0 1010.4L1236.0 1010.0L1238.0 1009.6L1240.0 1009.2L1241.9 1008.8L1242.0 1008.8L1244.0 1008.5L1246.0 1008.1L1248.0 1007.8L1250.0 1007.5L1252.0 1007.2L1254.0 1006.9L1255.9 1006.6L1256.0 1006.6L1258.0 1006.3L1260.0 1006.0L1262.0 1005.7L1264.0 1005.4L1266.0 1005.2L1268.0 1004.9L1269.8 1004.6L1270.0 1004.6L1272.0 1004.3L1274.0 1004.1L1276.0 1003.8L1278.0 1003.5L1280.0 1003.2L1282.0 1003.0L1283.8 1002.7L1284.0 1002.7L1286.0 1002.4L1288.0 1002.2L1290.0 1001.9L1292.0 1001.6L1294.0 1001.4L1296.0 1001.2L1297.8 1001.0L1298.0 1001.0L1300.0 1000.8L1302.0 1000.6L1304.0 1000.4L1306.0 1000.2L1308.0 1000.1L1310.0 999.9L1311.7 999.8L1312.0 999.7L1314.0 999.6L1316.0 999.4L1318.0 999.3L1320.0 999.2L1322.0 999.0L1324.0 998.9L1325.7 998.7L1326.0 998.7L1328.0 998.4L1330.0 998.2L1332.0 998.1L1334.0 997.9L1336.0 997.8L1338.0 997.7L1340.0 997.6L1342.0 997.5L1344.0 997.4L1346.0 997.4L1348.0 997.3L1350.0 997.2L1350.3 997.2L1352.0 997.1L1354.0 997.1L1356.0 997.0L1358.0 996.9L1360.0 996.9L1362.0 996.8L1364.0 996.8L1366.0 996.7L1368.0 996.7L1370.0 996.7L1370.6 996.7L1372.0 996.7L1374.0 996.7L1376.0 996.6L1378.0 996.6L1380.0 996.6L1382.0 996.6L1384.0 996.6L1386.0 996.6L1388.0 996.6L1390.0 996.6L1390.9 996.6L1392.0 996.6L1394.0 996.6L1396.0 996.6L1398.0 996.7L1400.0 996.7L1402.0 996.8L1404.0 996.8L1406.0 996.9L1408.0 996.9L1410.0 997.0L1411.2 997.0L1412.0 997.1L1414.0 997.1L1416.0 997.2L1418.0 997.3L1420.0 997.4L1422.0 997.5L1424.0 997.7L1426.0 997.8L1428.0 997.9L1430.0 998.0L1431.5 998.0L1432.0 998.1L1434.0 998.2L1436.0 998.3L1438.0 998.4L1440.0 998.4L1442.0 998.5L1444.0 998.5L1445.0 998.5L1446.0 998.5L1448.0 998.5L1450.0 998.4L1452.0 998.3L1454.0 998.2L1456.0 998.1L1458.0 997.9L1458.6 997.9L1460.0 997.7L1462.0 997.5L1463.0 997.4M1608.8 1033.1L1610.4 1030.3L1610.8 1029.9L1612.8 1028.3L1614.8 1027.2L1616.1 1026.5L1616.8 1026.0L1618.8 1024.9L1620.8 1023.9L1621.5 1023.6L1622.8 1023.1L1624.8 1022.5L1626.8 1022.0L1628.8 1021.5L1630.8 1021.1L1632.3 1020.7L1632.8 1020.6L1634.8 1020.1L1636.8 1019.7L1638.8 1019.2L1640.8 1018.8L1642.8 1018.4L1644.8 1018.0L1645.7 1017.8L1646.8 1017.6L1648.8 1017.2L1650.8 1016.8L1652.8 1016.4L1654.8 1016.0L1656.8 1015.7L1658.8 1015.3L1660.8 1015.0L1661.4 1014.9L1662.8 1014.7L1664.8 1014.5L1666.8 1014.2L1668.8 1014.0L1670.8 1013.8L1672.8 1013.5L1674.8 1013.3L1676.8 1013.0L1678.8 1012.7L1680.8 1012.3L1682.8 1011.9L1684.8 1011.5L1686.8 1011.1L1688.8 1010.8L1690.0 1010.6L1690.8 1010.5L1692.8 1010.2L1694.8 1009.9L1696.8 1009.6L1698.8 1009.3L1700.8 1009.1L1702.8 1009.0L1704.0 1009.0L1704.8 1009.0L1706.8 1009.0L1708.8 1009.1L1710.8 1009.2L1712.8 1009.3L1714.8 1009.5L1716.5 1009.6L1716.8 1009.6L1718.8 1009.7L1720.8 1009.9L1722.8 1010.1L1724.1 1010.2L1724.8 1010.4L1726.8 1010.8L1728.8 1011.5L1730.8 1012.2L1732.8 1013.0L1733.2 1013.1L1734.8 1013.7L1736.8 1014.4L1738.8 1015.2L1740.8 1016.0L1742.3 1016.6L1742.8 1016.8L1744.8 1017.7L1746.8 1018.6L1748.8 1019.5L1750.8 1020.2L1751.4 1020.4L1752.8 1020.8L1754.8 1021.3L1756.8 1021.6L1757.5 1021.6L1758.8 1021.6L1760.8 1021.3L1762.8 1020.9L1764.8 1020.4L1766.6 1020.1L1766.8 1020.1L1768.8 1019.7L1770.8 1019.4L1772.8 1019.0L1774.8 1018.7L1775.7 1018.6L1776.8 1018.5L1778.8 1018.2L1780.8 1018.0L1782.8 1017.8L1783.6 1017.8L1784.8 1017.9L1786.8 1018.1L1788.8 1018.5L1790.8 1019.0L1792.8 1019.3L1793.9 1019.4L1794.8 1019.4L1796.8 1019.5L1798.8 1019.5L1800.0 1019.5L1800.5 1019.1L1801.7 1020.1L1802.9 1019.2L1804.1 1021.1L1805.3 1020.1L1806.5 1022.4L1807.7 1021.1L1808.9 1022.4L1810.1 1021.2L1811.3 1022.5L1812.5 1021.2L1813.7 1022.5L1814.9 1021.2L1816.1 1022.6L1817.3 1021.3L1818.5 1022.6L1819.7 1021.3L1820.9 1022.9L1822.1 1021.3L1823.3 1024.3L1824.5 1021.4L1825.7 1025.5L1826.9 1021.4L1828.1 1026.4L1829.3 1021.4L1830.5 1027.0L1831.7 1023.9L1832.9 1027.4L1834.1 1025.2L1835.3 1027.7L1836.5 1025.4L1837.7 1028.3L1838.9 1025.7L1840.1 1028.9L1841.3 1026.5L1842.5 1029.5L1843.7 1028.1L1844.9 1029.8L1846.1 1028.7L1847.3 1030.0L1848.5 1029.3L1849.7 1030.3L1850.9 1029.6L1852.1 1031.0L1853.3 1029.7L1854.5 1033.6L1855.7 1029.9L1856.9 1033.7L1858.1 1030.0L1859.3 1033.9L1860.5 1031.0L1861.7 1034.0L1862.9 1032.3L1864.1 1034.5L1865.3 1032.4L1866.5 1035.2L1867.7 1032.5L1868.9 1035.2L1870.1 1032.6L1871.3 1035.2L1872.5 1032.6L1873.7 1035.2L1874.9 1032.7L1876.1 1036.1L1877.3 1032.8L1878.5 1037.6L1879.7 1032.9L1880.9 1039.7L1882.1 1033.3L1883.3 1039.8L1884.5 1033.7L1885.7 1039.9L1886.9 1034.9L1888.1 1041.1L1889.3 1039.4L1890.5 1044.2L1891.7 1040.3L1892.9 1044.2L1894.1 1040.4L1895.3 1044.2L1896.5 1040.3L1897.7 1044.3L1898.9 1040.2L1900.1 1042.1L1901.3 1040.2L1902.5 1045.0L1903.7 1040.1L1904.9 1046.1L1906.1 1041.5L1907.3 1046.1L1908.5 1042.6L1909.7 1046.1L1910.9 1042.6L1912.1 1046.1L1913.3 1042.4L1914.5 1046.1L1915.7 1040.8L1916.9 1046.1L1918.1 1040.8L1919.3 1053.5L1920.5 1040.8L1921.7 1054.3L1922.9 1041.5L1924.1 1056.2L1925.3 1044.8L1926.5 1057.0L1927.7 1044.6L1928.9 1059.2L1930.1 1043.1L1931.3 1061.3L1932.5 1043.1L1933.7 1061.3L1934.9 1043.4L1936.1 1061.3L1937.3 1044.9L1938.5 1058.8L1939.7 1045.4L1940.9 1058.8L1942.1 1045.2L1943.3 1065.2L1944.5 1045.0L1945.7 1065.2L1946.9 1044.7L1948.1 1065.2L1949.3 1044.5L1950.5 1059.0L1951.7 1042.7L1952.9 1059.0L1954.1 1041.4L1955.3 1074.9L1956.5 1041.4L1957.7 1074.9L1958.9 1041.5L1960.1 1074.9L1961.3 1041.7" stroke="#996633"/><path d="M459.0 1153.8L461.0 1153.6L463.0 1153.5L465.0 1153.3L467.0 1153.1L469.0 1152.9L471.0 1152.7L473.0 1152.5L475.0 1152.3L477.0 1152.1L479.0 1151.9L481.0 1151.7L483.0 1151.5L485.0 1151.3L487.0 1151.1L489.0 1150.9L491.0 1150.7L493.0 1150.5L495.0 1150.4L497.0 1150.2L499.0 1150.0L501.0 1149.9L503.0 1149.7L505.0 1149.6L507.0 1149.4L509.0 1149.2L511.0 1149.1L513.0 1148.9L515.0 1148.7L517.0 1148.5L519.0 1148.4L521.0 1148.2L523.0 1147.9L525.0 1147.7L527.0 1147.5L529.0 1147.3L531.0 1147.0L533.0 1146.7L535.0 1146.5L537.0 1146.2L539.0 1145.9L541.0 1145.6L543.0 1145.3L545.0 1145.0L547.0 1144.6L549.0 1144.3L551.0 1144.0L553.0 1143.6L555.0 1143.3L557.0 1142.9L559.0 1142.6L561.0 1142.2L563.0 1141.8L565.0 1141.5L567.0 1141.1L569.0 1140.8L571.0 1140.4L573.0 1140.0L575.0 1139.7L577.0 1139.3L579.0 1139.0L581.0 1138.6L583.0 1138.3L585.0 1137.9L587.0 1137.6L589.0 1137.3L591.0 1137.0L593.0 1136.7L595.0 1136.4L597.0 1136.1L599.0 1135.8L601.0 1135.5L603.0 1135.2L605.0 1134.9L607.0 1134.7L609.0 1134.4L611.0 1134.2L613.0 1133.9L615.0 1133.7L617.0 1133.5L619.0 1133.3L621.0 1133.0L623.0 1132.8L625.0 1132.6L627.0 1132.4L629.0 1132.2L631.0 1132.0L633.0 1131.9L635.0 1131.7L637.0 1131.5L639.0 1131.3L641.0 1131.1L643.0 1130.9L645.0 1130.7L647.0 1130.4L649.0 1130.2L651.0 1130.0L653.0 1129.8L655.0 1129.5L657.0 1129.3L659.0 1129.0L661.0 1128.7L663.0 1128.5L665.0 1128.2L667.0 1127.9L669.0 1127.6L671.0 1127.3L673.0 1127.0L675.0 1126.7L677.0 1126.4L679.0 1126.0L681.0 1125.7L683.0 1125.4L685.0 1125.0L687.0 1124.7L689.0 1124.3L691.0 1124.0L693.0 1123.6L695.0 1123.2L697.0 1122.9L699.0 1122.5L701.0 1122.2L703.0 1121.9L705.0 1121.5L707.0 1121.2L709.0 1120.8L711.0 1120.5L713.0 1120.2L715.0 1119.9L717.0 1119.6L719.0 1119.3L721.0 1119.0L723.0 1118.7L725.0 1118.4L727.0 1118.2L729.0 1117.9L731.0 1117.7L733.0 1117.5L735.0 1117.2L737.0 1117.0L739.0 1116.8L741.0 1116.6L743.0 1116.4L745.0 1116.2L747.0 1116.0L749.0 1115.9L751.0 1115.7L753.0 1115.5L755.0 1115.4L757.0 1115.2L759.0 1115.0L761.0 1114.9L763.0 1114.7L765.0 1114.6L767.0 1114.5L769.0 1114.3L771.0 1114.2L773.0 1114.0L775.0 1113.9L777.0 1113.8L779.0 1113.7L781.0 1113.5L783.0 1113.4L785.0 1113.3L787.0 1113.2L789.0 1113.0L791.0 1112.9L793.0 1112.8L795.0 1112.6L797.0 1112.5L799.0 1112.4L801.0 1112.3L803.0 1112.1L805.0 1112.0L807.0 1111.8L809.0 1111.7L811.0 1111.5L813.0 1111.4L815.0 1111.2L817.0 1111.1L819.0 1110.9L821.0 1110.8L823.0 1110.6L825.0 1110.5L827.0 1110.3L829.0 1110.2L831.0 1110.0L833.0 1109.9L835.0 1109.7L837.0 1109.6L839.0 1109.4L841.0 1109.3L843.0 1109.2L845.0 1109.1L847.0 1108.9L849.0 1108.8L851.0 1108.7L853.0 1108.6L855.0 1108.5L857.0 1108.4L859.0 1108.3L861.0 1108.2L863.0 1108.1L865.0 1108.0L867.0 1107.9L869.0 1107.8L871.0 1107.7L873.0 1107.6L875.0 1107.5L877.0 1107.4L879.0 1107.3L881.0 1107.2L883.0 1107.1L885.0 1107.0L887.0 1106.9L888.5 1106.8L891.5 1105.7L893.5 1105.6L895.0 1105.5L895.5 1105.4L897.5 1105.3L899.5 1105.2L901.5 1105.1L903.5 1105.1L905.5 1105.0L907.5 1104.9L909.5 1104.7L911.5 1104.6L913.5 1104.5L915.5 1104.4L916.0 1104.4L917.5 1104.3L919.5 1104.2L921.5 1104.0L923.5 1103.9L925.5 1103.8L926.4 1103.8L927.5 1103.7L929.5 1103.6L931.5 1103.5L933.5 1103.3L935.5 1103.2L936.9 1103.1L937.5 1103.1L939.5 1103.0L941.5 1102.9L943.5 1102.8L945.5 1102.6L947.4 1102.5L947.5 1102.5L949.5 1102.4L951.5 1102.3L953.5 1102.2L955.5 1102.1L957.5 1101.9L957.9 1101.9L959.5 1101.8L961.5 1101.7L963.5 1101.6L965.5 1101.5L967.5 1101.4L968.3 1101.3L969.5 1101.2L971.5 1101.0L973.5 1100.9L975.0 1100.8L975.5 1100.7L977.5 1100.6L979.5 1100.5L981.5 1100.3L983.5 1100.3L984.6 1100.2L985.5 1100.2L987.5 1100.2L989.5 1100.2L991.5 1100.2L993.5 1100.2L995.5 1100.2L997.5 1100.2L999.5 1100.2L1000.0 1100.2L1001.5 1100.2L1003.5 1100.1L1005.5 1100.1L1007.5 1100.1L1009.5 1100.0L1011.5 1100.0L1013.5 1099.9L1015.5 1099.9L1017.5 1099.8L1019.5 1099.8L1019.9 1099.7L1021.5 1099.7L1023.5 1099.6L1025.5 1099.6L1027.5 1099.5L1029.5 1099.5L1031.5 1099.4L1033.5 1099.3L1034.8 1099.3L1035.5 1099.3L1037.5 1099.2L1039.5 1099.1L1041.5 1099.1L1043.5 1099.0L1045.5 1098.9L1047.5 1098.9L1049.5 1098.8L1049.7 1098.8L1051.5 1098.7L1053.5 1098.6L1055.5 1098.5L1057.5 1098.5L1059.5 1098.4L1061.5 1098.3L1063.5 1098.2L1064.7 1098.2L1065.5 1098.1L1067.5 1098.1L1069.5 1098.0L1071.5 1097.9L1073.5 1097.8L1075.5 1097.7L1077.5 1097.6L1079.5 1097.6L1079.6 1097.6L1081.5 1097.5L1083.5 1097.4L1085.5 1097.4L1087.5 1097.3L1088.0 1097.3L1089.5 1097.2L1091.5 1097.2L1093.5 1097.1L1094.6 1097.1L1095.5 1097.1L1097.5 1097.0L1099.5 1097.0L1101.5 1096.9L1103.5 1096.9L1105.5 1096.9L1107.5 1096.9L1109.5 1096.8L1111.5 1096.8L1113.5 1096.8L1115.5 1096.8L1117.5 1096.8L1119.5 1096.7L1121.5 1096.7L1123.5 1096.7L1124.4 1096.7L1125.5 1096.7L1127.5 1096.7L1129.5 1096.7L1131.5 1096.7L1133.5 1096.7L1135.5 1096.7L1137.5 1096.7L1139.4 1096.7L1142.0 1096.8L1143.5 1097.8L1148.0 1097.8L1152.0 1093.3L1154.0 1097.8L1156.5 1097.9L1157.5 1095.1L1160.0 1098.1L1162.0 1095.5L1165.0 1096.3L1169.6 1098.7L1172.6 1099.7L1177.7 1101.3L1181.7 1102.8L1186.8 1104.4L1190.0 1104.8L1194.0 1104.5L1200.0 1103.9L1202.0 1103.8L1204.0 1103.8L1206.0 1103.7L1208.0 1103.6L1210.0 1103.5L1212.0 1103.4L1214.0 1103.3L1216.0 1103.2L1218.0 1103.1L1220.0 1103.0L1222.0 1102.8L1224.0 1102.7L1226.0 1102.6L1227.9 1102.5L1228.0 1102.4L1230.0 1102.3L1232.0 1102.1L1234.0 1102.0L1236.0 1101.8L1238.0 1101.6L1240.0 1101.5L1241.9 1101.3L1242.0 1101.3L1244.0 1101.2L1246.0 1101.0L1248.0 1100.9L1250.0 1100.8L1252.0 1100.7L1254.0 1100.5L1255.9 1100.4L1256.0 1100.4L1258.0 1100.3L1260.0 1100.2L1262.0 1100.1L1264.0 1100.0L1266.0 1099.9L1268.0 1099.8L1269.8 1099.7L1270.0 1099.6L1272.0 1099.5L1274.0 1099.4L1276.0 1099.3L1278.0 1099.2L1280.0 1099.1L1282.0 1099.0L1283.8 1098.9L1284.0 1098.9L1286.0 1098.8L1288.0 1098.7L1290.0 1098.6L1292.0 1098.5L1294.0 1098.4L1296.0 1098.3L1297.8 1098.2L1298.0 1098.2L1300.0 1098.1L1302.0 1098.0L1304.0 1098.0L1306.0 1097.9L1308.0 1097.8L1310.0 1097.8L1311.7 1097.7L1312.0 1097.7L1314.0 1097.6L1316.0 1097.6L1318.0 1097.5L1320.0 1097.5L1322.0 1097.4L1324.0 1097.3L1325.7 1097.3L1326.0 1097.3L1328.0 1097.2L1330.0 1097.1L1332.0 1097.0L1334.0 1097.0L1336.0 1096.9L1338.0 1096.9L1340.0 1096.8L1342.0 1096.8L1344.0 1096.8L1346.0 1096.7L1348.0 1096.7L1350.0 1096.7L1350.3 1096.7L1352.0 1096.7L1354.0 1096.6L1356.0 1096.6L1358.0 1096.6L1360.0 1096.6L1362.0 1096.5L1364.0 1096.5L1366.0 1096.5L1368.0 1096.5L1370.0 1096.5L1370.6 1096.5L1372.0 1096.5L1374.0 1096.5L1376.0 1096.5L1378.0 1096.5L1380.0 1096.4L1382.0 1096.4L1384.0 1096.4L1386.0 1096.4L1388.0 1096.4L1390.0 1096.4L1390.9 1096.4L1392.0 1096.4L1394.0 1096.4L1396.0 1096.5L1398.0 1096.5L1400.0 1096.5L1402.0 1096.5L1404.0 1096.5L1406.0 1096.5L1408.0 1096.6L1410.0 1096.6L1411.2 1096.6L1412.0 1096.6L1414.0 1096.7L1416.0 1096.7L1418.0 1096.7L1420.0 1096.8L1422.0 1096.8L1424.0 1096.9L1426.0 1096.9L1428.0 1097.0L1430.0 1097.0L1431.5 1097.0L1432.0 1097.0L1434.0 1097.1L1436.0 1097.1L1438.0 1097.1L1440.0 1097.2L1442.0 1097.2L1444.0 1097.2L1445.0 1097.2L1446.0 1097.2L1448.0 1097.2L1450.0 1097.2L1452.0 1097.1L1454.0 1097.1L1456.0 1097.0L1458.0 1097.0L1458.6 1097.0L1460.0 1096.9L1462.0 1096.8L1463.0 1096.8M1608.8 1111.0L1610.4 1109.9L1610.8 1109.8L1612.8 1109.1L1614.8 1108.7L1616.1 1108.4L1616.8 1108.2L1618.8 1107.7L1620.8 1107.3L1621.5 1107.2L1622.8 1107.0L1624.8 1106.8L1626.8 1106.6L1628.8 1106.4L1630.8 1106.2L1632.3 1106.1L1632.8 1106.0L1634.8 1105.8L1636.8 1105.7L1638.8 1105.5L1640.8 1105.3L1642.8 1105.2L1644.8 1105.0L1645.7 1104.9L1646.8 1104.8L1648.8 1104.7L1650.8 1104.5L1652.8 1104.4L1654.8 1104.2L1656.8 1104.1L1658.8 1103.9L1660.8 1103.8L1661.4 1103.8L1662.8 1103.7L1664.8 1103.6L1666.8 1103.5L1668.8 1103.4L1670.8 1103.3L1672.8 1103.2L1674.8 1103.1L1676.8 1103.0L1678.8 1102.9L1680.8 1102.7L1682.8 1102.6L1684.8 1102.4L1686.8 1102.3L1688.8 1102.1L1690.0 1102.0L1690.8 1102.0L1692.8 1101.9L1694.8 1101.7L1696.8 1101.6L1698.8 1101.5L1700.8 1101.4L1702.8 1101.4L1704.0 1101.4L1704.8 1101.4L1706.8 1101.4L1708.8 1101.4L1710.8 1101.5L1712.8 1101.5L1714.8 1101.6L1716.5 1101.6L1716.8 1101.6L1718.8 1101.7L1720.8 1101.8L1722.8 1101.8L1724.1 1101.9L1724.8 1101.9L1726.8 1102.1L1728.8 1102.4L1730.8 1102.7L1732.8 1103.0L1733.2 1103.0L1734.8 1103.3L1736.8 1103.6L1738.8 1103.9L1740.8 1104.2L1742.3 1104.5L1742.8 1104.5L1744.8 1104.9L1746.8 1105.3L1748.8 1105.6L1750.8 1105.9L1751.4 1106.0L1752.8 1106.1L1754.8 1106.3L1756.8 1106.4L1757.5 1106.5L1758.8 1106.4L1760.8 1106.3L1762.8 1106.2L1764.8 1106.0L1766.6 1105.8L1766.8 1105.8L1768.8 1105.7L1770.8 1105.5L1772.8 1105.4L1774.8 1105.3L1775.7 1105.2L1776.8 1105.2L1778.8 1105.1L1780.8 1105.0L1782.8 1104.9L1783.6 1104.9L1784.8 1105.0L1786.8 1105.1L1788.8 1105.2L1790.8 1105.4L1792.8 1105.5L1793.9 1105.5L1794.8 1105.6L1796.8 1105.6L1798.8 1105.6L1800.0 1105.6L1800.5 1105.5L1801.7 1105.9L1802.9 1105.5L1804.1 1106.3L1805.3 1105.9L1806.5 1106.7L1807.7 1106.3L1808.9 1106.8L1810.1 1106.3L1811.3 1106.8L1812.5 1106.3L1813.7 1106.8L1814.9 1106.3L1816.1 1106.8L1817.3 1106.3L1818.5 1106.8L1819.7 1106.3L1820.9 1107.0L1822.1 1106.3L1823.3 1107.5L1824.5 1106.3L1825.7 1108.0L1826.9 1106.4L1828.1 1108.3L1829.3 1106.4L1830.5 1108.6L1831.7 1107.4L1832.9 1108.7L1834.1 1107.9L1835.3 1108.9L1836.5 1108.0L1837.7 1109.1L1838.9 1108.1L1840.1 1109.4L1841.3 1108.4L1842.5 1109.6L1843.7 1109.0L1844.9 1109.7L1846.1 1109.3L1847.3 1109.8L1848.5 1109.5L1849.7 1109.9L1850.9 1109.6L1852.1 1110.2L1853.3 1109.7L1854.5 1111.2L1855.7 1109.7L1856.9 1111.3L1858.1 1109.8L1859.3 1111.3L1860.5 1110.2L1861.7 1111.4L1862.9 1110.7L1864.1 1111.6L1865.3 1110.8L1866.5 1111.9L1867.7 1110.8L1868.9 1111.9L1870.1 1110.8L1871.3 1111.9L1872.5 1110.9L1873.7 1111.9L1874.9 1110.9L1876.1 1112.2L1877.3 1110.9L1878.5 1112.8L1879.7 1110.9L1880.9 1113.7L1882.1 1111.1L1883.3 1113.7L1884.5 1111.3L1885.7 1113.8L1886.9 1111.8L1888.1 1114.2L1889.3 1113.6L1890.5 1115.5L1891.7 1113.9L1892.9 1115.5L1894.1 1113.9L1895.3 1115.5L1896.5 1113.9L1897.7 1115.5L1898.9 1113.9L1900.1 1114.6L1901.3 1113.9L1902.5 1115.8L1903.7 1113.8L1904.9 1116.2L1906.1 1114.4L1907.3 1116.2L1908.5 1114.8L1909.7 1116.2L1910.9 1114.8L1912.1 1116.2L1913.3 1114.8L1914.5 1116.2L1915.7 1114.1L1916.9 1116.2L1918.1 1114.1L1919.3 1119.2L1920.5 1114.1L1921.7 1119.5L1922.9 1114.4L1924.1 1120.3L1925.3 1115.7L1926.5 1120.6L1927.7 1115.6L1928.9 1121.5L1930.1 1115.0L1931.3 1122.3L1932.5 1115.0L1933.7 1122.3L1934.9 1115.2L1936.1 1122.3L1937.3 1115.8L1938.5 1121.3L1939.7 1116.0L1940.9 1121.3L1942.1 1115.9L1943.3 1123.9L1944.5 1115.8L1945.7 1123.9L1946.9 1115.7L1948.1 1123.9L1949.3 1115.6L1950.5 1121.4L1951.7 1114.9L1952.9 1121.4L1954.1 1114.4L1955.3 1127.8L1956.5 1114.4L1957.7 1127.8L1958.9 1114.4L1960.1 1127.8L1961.3 1114.5" stroke="#663300"/></g>
<g font-size="80"><text x="253.0" y="110.7" text-anchor="end">0.6</text><text x="253.0" y="290.1" text-anchor="end">0.5</text><text x="253.0" y="469.5" text-anchor="end">0.4</text><text x="253.0" y="648.9" text-anchor="end">0.3</text><text x="253.0" y="828.3" text-anchor="end">0.2</text><text x="254.5" y="1007.7" text-anchor="end">0.<tspan style="font-family:NanumGothic,'Liberation Sans',sans-serif;font-size:0.94em;stroke:none">1</tspan></text><text x="251.0" y="1187.1" text-anchor="end">0</text><text x="317.5" y="1281" text-anchor="middle" letter-spacing="-0.7">200</text><text x="605.0" y="1281" text-anchor="middle" letter-spacing="-0.7">600</text><text x="888.5" y="1281" text-anchor="middle" letter-spacing="-0.7"><tspan style="font-family:NanumGothic,'Liberation Sans',sans-serif;font-size:0.94em;stroke:none">1</tspan>000</text><text x="1175.2" y="1281" text-anchor="middle" letter-spacing="-0.7"><tspan style="font-family:NanumGothic,'Liberation Sans',sans-serif;font-size:0.94em;stroke:none">1</tspan>400</text><text x="1462.5" y="1281" text-anchor="middle" letter-spacing="-0.7"><tspan style="font-family:NanumGothic,'Liberation Sans',sans-serif;font-size:0.94em;stroke:none">1</tspan>800</text><text x="1748.5" y="1281" text-anchor="middle" letter-spacing="-0.7">2200</text><text x="2035.0" y="1281" text-anchor="middle" letter-spacing="-0.7">2600</text></g>
<text x="1178.5" y="1387" font-size="80" text-anchor="middle" letter-spacing="-0.7">Wavelength (nm)</text>
<text transform="translate(93.9 626.5) rotate(-90)" font-size="80" text-anchor="middle" letter-spacing="-0.7">Reflectance</text>
<rect x="435.7" y="149" width="115" height="9.2" fill="#FFE699"/><text x="556.8" y="175.8" font-size="68">soil<tspan style="font-family:NanumGothic,'Liberation Sans',sans-serif;font-size:0.94em;stroke:none">1</tspan></text><rect x="739.0" y="149" width="115" height="9.2" fill="#FFD966"/><text x="860.8" y="175.8" font-size="68">soil2</text><rect x="1042.6" y="149" width="115" height="9.2" fill="#BF9000"/><text x="1164.0" y="175.8" font-size="68">soil3</text><rect x="1346.0" y="149" width="115" height="9.2" fill="#996633"/><text x="1467.8" y="175.8" font-size="68">soil4</text><rect x="1649.0" y="149" width="115" height="9.2" fill="#663300"/><text x="1770.8" y="175.8" font-size="68">soil5</text>
</svg>
</body></html>
